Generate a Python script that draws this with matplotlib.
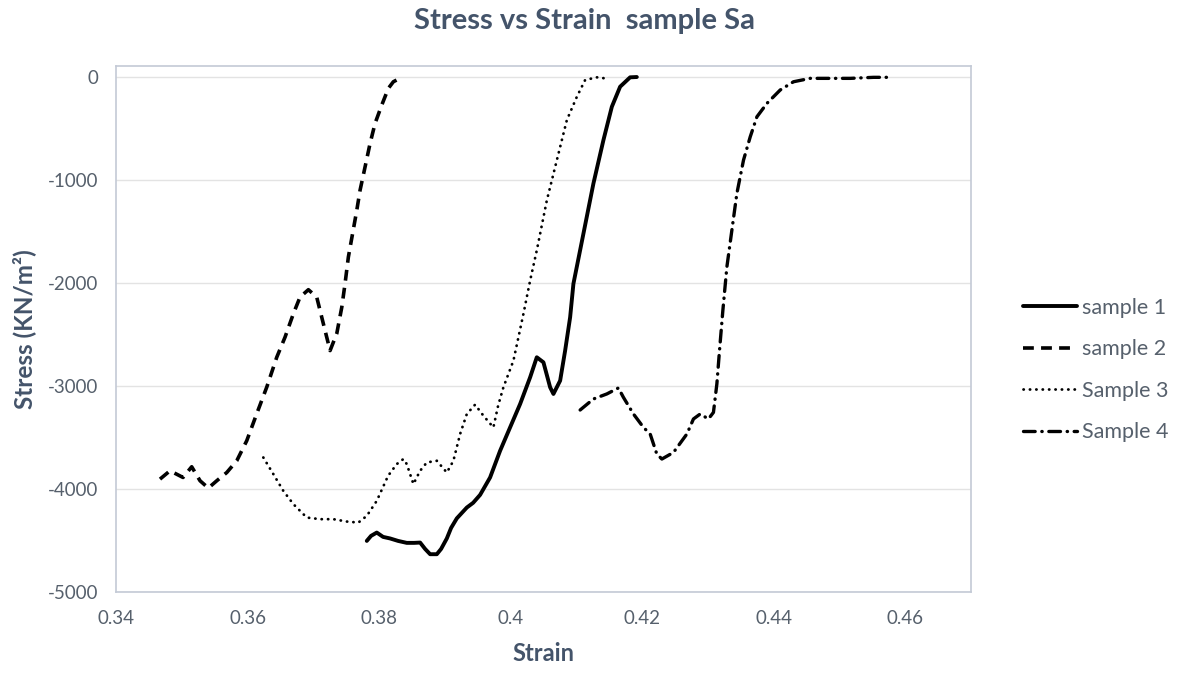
import matplotlib
matplotlib.use("Agg")
import matplotlib.pyplot as plt

plt.rcParams["font.family"] = ["Lato", "DejaVu Sans"]
plt.rcParams["axes.unicode_minus"] = False

# strain / stress readings (KN/m2) for each sample
s1_strain = [0.37813, 0.37878, 0.37965, 0.38061, 0.38167, 0.38289, 0.38421, 0.38532, 0.38624,
             0.38700, 0.38776, 0.38878, 0.38943, 0.39030, 0.39095, 0.39182, 0.39334, 0.39430,
             0.39536, 0.39688, 0.39840, 0.39992, 0.40145, 0.40297, 0.40398, 0.40499, 0.40601,
             0.40651, 0.40753, 0.40829, 0.40905, 0.40955, 0.41107, 0.41259, 0.41411, 0.41539,
             0.41665, 0.41817, 0.41919]
s1_stress = [-4504, -4455, -4423, -4465, -4480, -4504, -4523, -4523, -4520,
             -4582, -4633, -4633, -4582, -4480, -4378, -4285, -4180, -4134,
             -4057, -3888, -3629, -3402, -3174, -2915, -2721, -2770, -3013,
             -3077, -2948, -2656, -2332, -2007, -1521, -1034, -613, -289,
             -94, -3, 0]

s2_strain = [0.34669, 0.34821, 0.35019, 0.35151, 0.35278, 0.35404, 0.35532, 0.35684, 0.35836,
             0.35988, 0.36140, 0.36292, 0.36444, 0.36570, 0.36697, 0.36798, 0.36925, 0.37052,
             0.37128, 0.37255, 0.37357, 0.37433, 0.37483, 0.37533, 0.37661, 0.37711, 0.37787,
             0.37863, 0.37939, 0.38041, 0.38141, 0.38217, 0.38345]
s2_stress = [-3904, -3823, -3888, -3784, -3920, -3991, -3920, -3840, -3726,
             -3531, -3269, -3011, -2721, -2526, -2298, -2137, -2065, -2137,
             -2332, -2656, -2490, -2235, -2004, -1748, -1294, -1099, -873,
             -645, -450, -272, -110, -46, -3]

s3_strain = [0.36240, 0.36392, 0.36544, 0.36697, 0.36900, 0.37103, 0.37305, 0.37509, 0.37685,
             0.37813, 0.37965, 0.38137, 0.38269, 0.38370, 0.38421, 0.38522, 0.38624, 0.38726,
             0.38878, 0.39030, 0.39130, 0.39232, 0.39334, 0.39460, 0.39586, 0.39738, 0.39810,
             0.39890, 0.40043, 0.40195, 0.40297, 0.40398, 0.40551, 0.40703, 0.40855, 0.41007,
             0.41133, 0.41311, 0.41437]
s3_stress = [-3694, -3855, -4018, -4147, -4277, -4293, -4293, -4316, -4326,
             -4261, -4115, -3872, -3758, -3709, -3758, -3952, -3823, -3742,
             -3726, -3840, -3726, -3466, -3272, -3181, -3288, -3402, -3191,
             -3013, -2753, -2299, -1975, -1683, -1197, -807, -418, -192,
             -29, -3, -13]

s4_strain = [0.41057, 0.41259, 0.41463, 0.41639, 0.41715, 0.41868, 0.42020, 0.42122, 0.42223,
             0.42300, 0.42476, 0.42680, 0.42780, 0.42882, 0.43008, 0.43084, 0.43136, 0.43176,
             0.43227, 0.43288, 0.43364, 0.43440, 0.43541, 0.43643, 0.43745, 0.43897, 0.44099,
             0.44301, 0.44555, 0.44809, 0.45164, 0.45518, 0.45772]
s4_stress = [-3233, -3126, -3077, -3019, -3110, -3272, -3402, -3466, -3661,
             -3709, -3645, -3466, -3320, -3272, -3320, -3256, -2980, -2656,
             -2267, -1845, -1488, -1131, -807, -581, -386, -256, -126,
             -46, -13, -13, -13, -3, -3]

labels = ["sample 1", "sample 2", "Sample 3", "Sample 4"]
x_ticks = [0.34, 0.36, 0.38, 0.40, 0.42, 0.44, 0.46]
x_ticklabels = ["0.34", "0.36", "0.38", "0.4", "0.42", "0.44", "0.46"]
y_ticks = [0, -1000, -2000, -3000, -4000, -5000]

TXT = "#56606c"
HEAD = "#44546a"

fig = plt.figure(figsize=(11.81, 6.73), dpi=100)
ax = fig.add_axes([116 / 1181, 1 - 592 / 673, (971 - 116) / 1181, (592 - 66) / 673])

ax.plot(s1_strain, s1_stress, color="black", lw=2.8, solid_capstyle="round", label=labels[0])
ax.plot(s2_strain, s2_stress, color="black", lw=2.6, linestyle=(0, (3, 2)), label=labels[1])
ax.plot(s3_strain, s3_stress, color="black", lw=2.0, linestyle=(0, (0.1, 2.2)),
        dash_capstyle="round", label=labels[2])
ax.plot(s4_strain, s4_stress, color="black", lw=2.4, linestyle=(0, (3.5, 2, 0.1, 2)),
        dash_capstyle="round", label=labels[3])

ax.set_xlim(0.34, 0.47)
ax.set_ylim(-5000, 107)
ax.set_xticks(x_ticks)
ax.set_xticklabels(x_ticklabels)
ax.set_yticks(y_ticks)
ax.tick_params(length=0, labelsize=13.5, colors=TXT)
ax.tick_params(axis="x", pad=13)
ax.tick_params(axis="y", pad=13)
ax.grid(axis="y", color="#e3e3e3", lw=1)
ax.set_axisbelow(True)
for sp in ax.spines.values():
    sp.set_color("#c3cad6")
    sp.set_linewidth(1.2)

ax.set_xlabel("Strain", fontsize=17, fontweight="bold", color=HEAD, labelpad=11)
ax.set_ylabel("Stress (KN/m²)", fontsize=17.5, fontweight="bold", color=HEAD, labelpad=8)
fig.suptitle("Stress vs Strain  sample Sa", x=0.495, y=0.988, fontsize=21,
             fontweight="bold", color=HEAD)

leg = ax.legend(loc="center left", bbox_to_anchor=(1012 / 1181, 1 - 370 / 673),
                bbox_transform=fig.transFigure, frameon=False, fontsize=15.5,
                handlelength=2.5, handletextpad=0.25, labelspacing=1.0, borderpad=0)
for t in leg.get_texts():
    t.set_color(TXT)

fig.savefig("out.png", dpi=100)
